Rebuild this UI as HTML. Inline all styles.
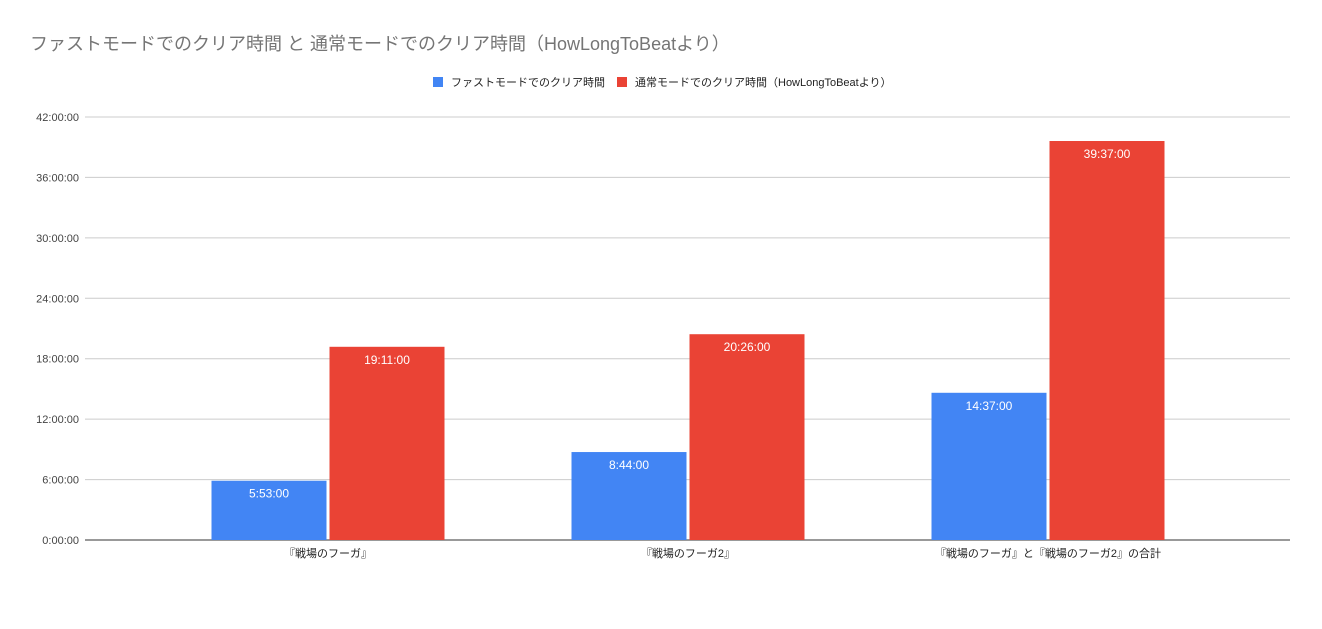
<!DOCTYPE html>
<html><head><meta charset="utf-8"><style>
body{margin:0;background:#fff;font-family:"Liberation Sans","Noto Sans CJK JP",sans-serif}
svg text{font-family:"Liberation Sans","Noto Sans CJK JP",sans-serif}
</style></head><body>
<svg id="chart" width="1322" height="624" xmlns="http://www.w3.org/2000/svg">
<rect width="1322" height="624" fill="#fff"/>
<text x="30" y="50" font-size="18" fill="#757575">ファストモードでのクリア時間 と 通常モードでのクリア時間（HowLongToBeatより）</text>
<g>
<g><rect x="433" y="77" width="10" height="10" fill="#4285f4"/><text x="451" y="86" font-size="11" fill="#222">ファストモードでのクリア時間</text></g>
<g><rect x="617" y="77" width="10" height="10" fill="#ea4335"/><text x="635" y="86" font-size="11" fill="#222">通常モードでのクリア時間（HowLongToBeatより）</text></g>
</g>
<g id="grid"></g><g id="bars"></g><g id="xl"></g>
</svg>
<script>
const categories=["『戦場のフーガ』","『戦場のフーガ2』","『戦場のフーガ』と『戦場のフーガ2』の合計"];
const fastHours=[5+53/60,8+44/60,14+37/60];
const normalHours=[19+11/60,20+26/60,39+37/60];
const fastLabels=["5:53:00","8:44:00","14:37:00"];
const normalLabels=["19:11:00","20:26:00","39:37:00"];
const tickValues=[0,6,12,18,24,30,36,42];
const tickLabels=["0:00:00","6:00:00","12:00:00","18:00:00","24:00:00","30:00:00","36:00:00","42:00:00"];
const NS="http://www.w3.org/2000/svg";
const y=v=>540-v/42*423;
const xc=i=>328+i*360;
function mk(t,a,p){const e=document.createElementNS(NS,t);for(const k in a)e.setAttribute(k,a[k]);p.appendChild(e);return e;}
const g=document.getElementById('grid');
tickValues.forEach((v,i)=>{
 const l=mk('line',{x1:85,x2:1290,y1:y(v),y2:y(v),stroke:i==0?'#333':'#ccc','stroke-width':1},g);
 
 
 const t=mk('text',{x:79,y:y(v)+4,'text-anchor':'end','font-size':11,fill:'#444'},g);
 t.textContent=tickLabels[i];
 
 
});
const b=document.getElementById('bars');
function bar(x,v,col,lab,name){
 const r=mk('rect',{x:x,y:y(v),width:115,height:540-y(v),fill:col},b);
 
 
 const t=mk('text',{x:x+57.5,y:y(v)+17,'text-anchor':'middle','font-size':12,fill:'#fff'},b);
 t.textContent=lab;
 
 
}
categories.forEach((c,i)=>{
 bar(xc(i)-116.5,fastHours[i],'#4285f4',fastLabels[i],'bar-fast-'+(i+1));
 bar(xc(i)+1.5,normalHours[i],'#ea4335',normalLabels[i],'bar-normal-'+(i+1));
 const t=mk('text',{x:xc(i),y:557,'text-anchor':'middle','font-size':11,fill:'#222'},document.getElementById('xl'));
 t.textContent=c;
 
 
});
</script>
</body></html>
